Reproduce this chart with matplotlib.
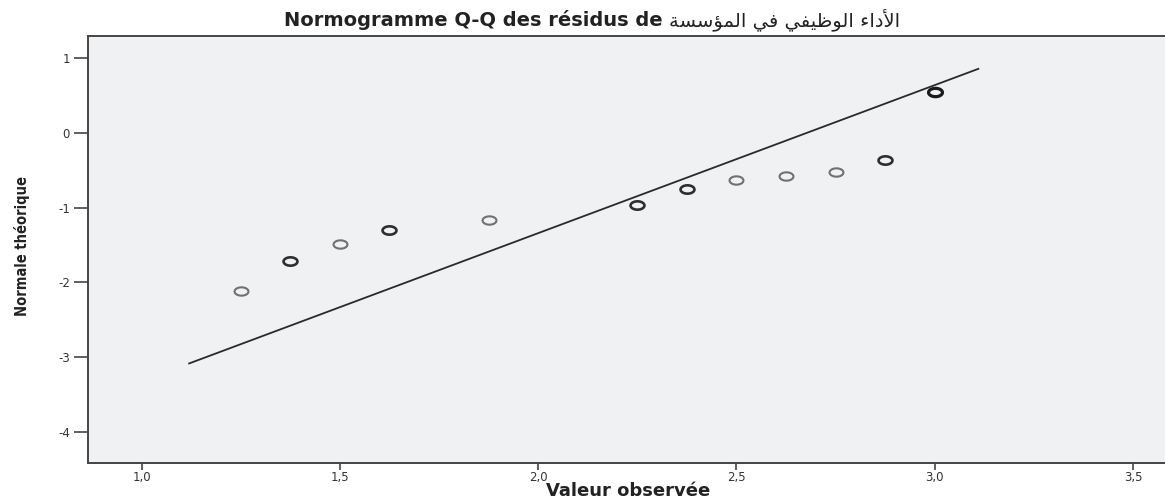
import numpy as np
import matplotlib
matplotlib.use("Agg")
import matplotlib.pyplot as plt
from matplotlib.path import Path

# Q-Q plot values
observed = [1.25, 1.375, 1.5, 1.625, 1.875, 2.25, 2.375, 2.5, 2.625, 2.75, 2.875, 3.0]
expected = [-2.12, -1.71, -1.48, -1.30, -1.16, -0.97, -0.75, -0.63, -0.58, -0.53, -0.36, 0.54]
ties = [1, 2, 1, 2, 1, 2, 2, 1, 1, 1, 2, 3]

# reference line: expected = (x - mean) / sd
line_range = [1.12, 3.11]
obs_mean = 2.679
obs_sd = 0.506

xticks = [1.0, 1.5, 2.0, 2.5, 3.0, 3.5]
xtick_labels = ["1,0", "1,5", "2,0", "2,5", "3,0", "3,5"]
yticks = [1, 0, -1, -2, -3, -4]
ytick_labels = ["1", "0", "-1", "-2", "-3", "-4"]

# Arabic part of the title, in presentation forms and visual (left-to-right) order
title_latin = "Normogramme Q-Q des résidus de "
title_arabic = ("\uFE94\uFEB4\uFEB3\uFE86\uFEE4\uFEDF\uFE8D" + " "
                + "\uFEF2\uFED3" + " "
                + "\uFEF2\uFED4\uFEF4\uFEC7\uFEEE\uFEDF\uFE8D" + " "
                + "\uFE80\uFE8D\uFEA9\uFEF7\uFE8D")

# slightly flattened ring marker, as in the stretched original
t = np.linspace(0, 2 * np.pi, 60)
ellipse = Path(np.column_stack([np.cos(t), 0.6 * np.sin(t)]), closed=True)

fig = plt.figure(figsize=(11.65, 5.04), dpi=100)
ax = fig.add_axes([88 / 1165, 1 - 463 / 504, 1 - 88 / 1165 + 0.01, (463 - 36) / 504])
ax.set_facecolor("#f0f1f3")

lx = np.array(line_range)
ax.plot(lx, (lx - obs_mean) / obs_sd, color="#2a2a2a", lw=1.3, zorder=2)

for x, y, n in zip(observed, expected, ties):
    if n == 1:
        ec, lw = "#707070", 1.5
    elif n == 2:
        ec, lw = "#2e2e2e", 1.9
    else:
        ec, lw = "#1a1a1a", 2.3
    ax.plot(x, y, marker=ellipse, markersize=10, markerfacecolor="none",
            markeredgecolor=ec, markeredgewidth=lw, linestyle="none", zorder=3)

ax.set_xlim(0.865, 3.61)
ax.set_ylim(-4.41, 1.29)
ax.set_xticks(xticks)
ax.set_xticklabels(xtick_labels)
ax.set_yticks(yticks)
ax.set_yticklabels(ytick_labels)

for s in ax.spines.values():
    s.set_color("#444444")
    s.set_linewidth(1.4)
ax.tick_params(axis="y", length=10, width=1.2, color="#444444", pad=3,
               labelsize=8.5, labelcolor="#333333")
ax.tick_params(axis="x", length=5, width=1.2, color="#444444", pad=1,
               labelsize=8.5, labelcolor="#333333")
for lab in ax.get_xticklabels() + ax.get_yticklabels():
    lab.set_family("DejaVu Sans")

# title: bold latin part, regular arabic part, centred together
W = 1165
t1 = fig.text(0, 1 - 20 / 504, title_latin, ha="left", va="center",
              fontsize=14, fontweight="bold", color="#222222", family="DejaVu Sans")
t2 = fig.text(0, 1 - 20 / 504, title_arabic, ha="left", va="center",
              fontsize=14, color="#222222", family="DejaVu Sans")
r = fig.canvas.get_renderer()
w1 = t1.get_window_extent(r).width
w2 = t2.get_window_extent(r).width
x0 = 592 - (w1 + w2) / 2
t1.set_x(x0 / W)
t2.set_x((x0 + w1) / W)

fig.text(628 / W, 1 - 491 / 504, "Valeur observée", ha="center", va="center",
         fontsize=13, fontweight="bold", color="#222222", family="DejaVu Sans")
fig.text(22 / W, 1 - 246 / 504, "Normale théorique", ha="center", va="center",
         rotation=90, fontsize=10.5, fontweight="bold", fontstretch="condensed",
         color="#222222", family="DejaVu Sans")

fig.savefig("out.png", dpi=100, facecolor="white")
